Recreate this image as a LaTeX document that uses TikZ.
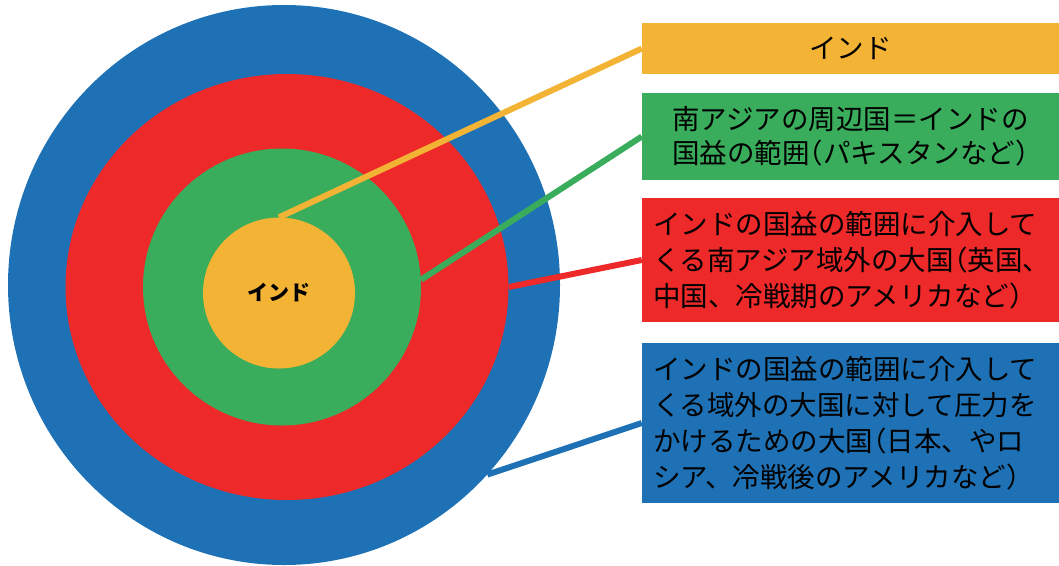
\documentclass[tikz,border=0pt]{standalone}
\usepackage{fontspec}
\newfontfamily\jp{Noto Sans CJK JP}
\newcommand{\hw}[1]{{\addfontfeature{RawFeature=+halt}#1}}
\usetikzlibrary{shapes.geometric}
\definecolor{cblue}{RGB}{30,113,180}
\definecolor{cred}{RGB}{237,41,41}
\definecolor{cgreen}{RGB}{57,173,91}
\definecolor{corange}{RGB}{243,179,53}
\begin{document}
\begin{tikzpicture}[x=1pt,y=-1pt,
  ring/.style={ellipse, inner sep=0pt, draw=none},
  conn/.style={line width=6pt},
  box/.style={rectangle, inner xsep=11pt, inner ysep=0pt, text width=395pt, text=black},
  boxfont/.style={font=\jp\fontsize{27.5}{36}\selectfont}]
\useasboundingbox (0,0) rectangle (1059,565);
% rings
\node[ring, fill=cblue, minimum width=552pt, minimum height=560pt] (blue) at (284,285) {};
\node[ring, fill=cred, minimum width=443pt, minimum height=426pt] (red) at (287,287) {};
\node[ring, fill=cgreen, minimum width=278pt, minimum height=277pt] (green) at (282,287) {};
\node[ring, fill=corange, minimum width=152pt, minimum height=151pt,
      font=\jp\bfseries\fontsize{21}{24}\selectfont] (india) at (279,293) {インド};
% boxes
\node[box, boxfont, fill=corange, minimum height=51pt, align=center] (b1) at (850.5,48.5) {インド};
\node[box, font=\jp\fontsize{27.5}{34}\selectfont, fill=cgreen, minimum height=87pt, align=center] (b2) at (850.5,136.5)
  {南アジアの周辺国＝インドの\\国益の範囲\hw{（}パキスタンなど\hw{）}};
\node[box, boxfont, fill=cred, minimum height=124pt, align=left] (b3) at (850.5,260)
  {インドの国益の範囲に介入して\\くる南アジア域外の大国\hw{（}英国、\\中国、冷戦期のアメリカなど\hw{）}};
\node[box, boxfont, fill=cblue, minimum height=160pt, align=left] (b4) at (850.5,423)
  {インドの国益の範囲に介入して\\くる域外の大国に対して圧力を\\かけるための大国\hw{（}日本、やロ\\シア、冷戦後のアメリカなど\hw{）}};
% connectors
\draw[conn, draw=corange] (india.north) -- (b1.west);
\draw[conn, draw=cgreen] (green.3) -- (b2.west);
\draw[conn, draw=cred] (red.east) -- (b3.west);
\draw[conn, draw=cblue] (blue.-43) -- (b4.west);
\end{tikzpicture}
\end{document}
